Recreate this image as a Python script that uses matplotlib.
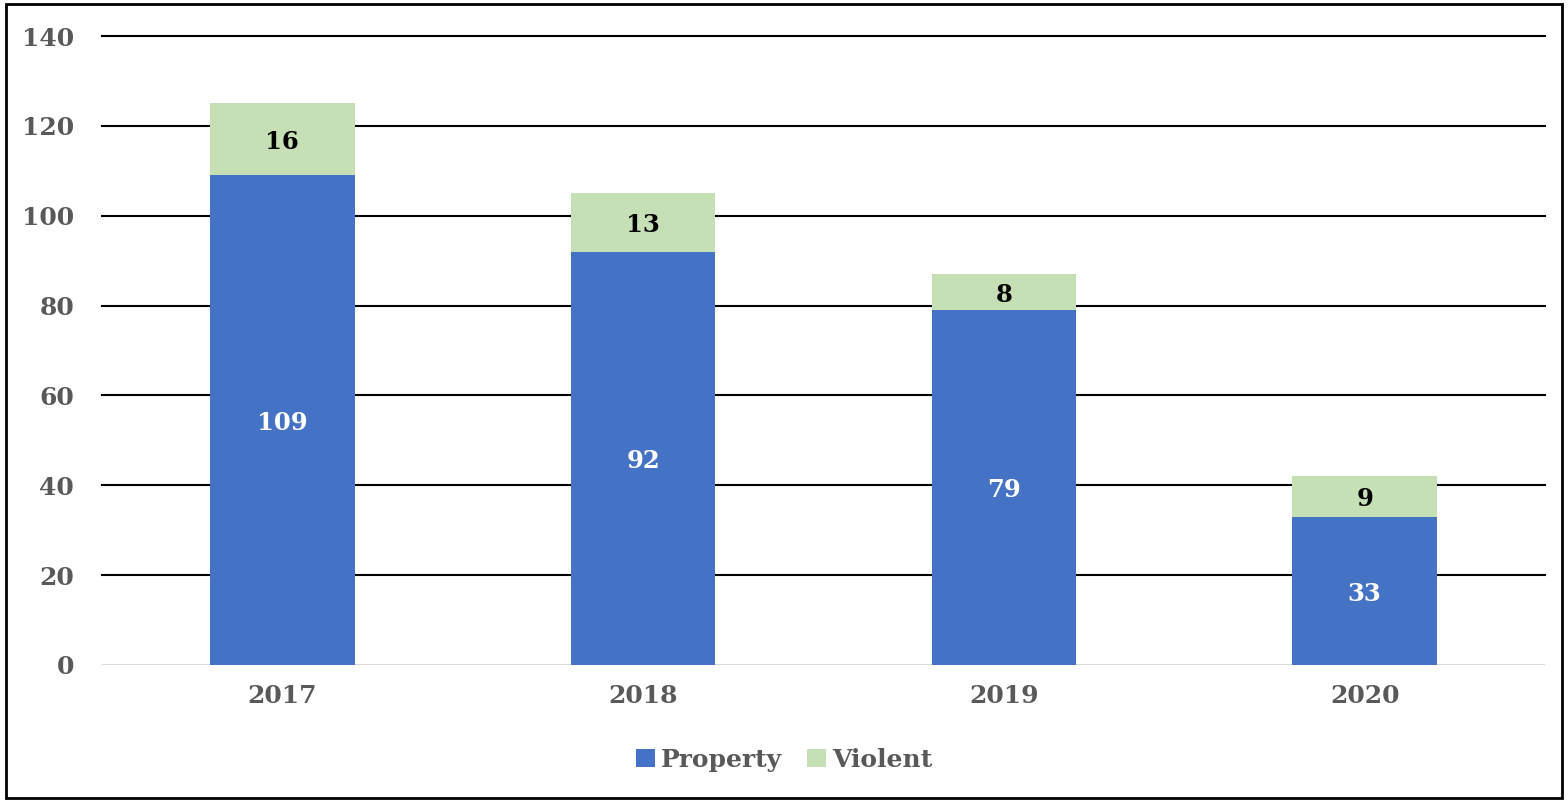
import matplotlib
matplotlib.use("Agg")
import matplotlib.pyplot as plt
from matplotlib.patches import Rectangle

years = ["2017", "2018", "2019", "2020"]
property_vals = [109, 92, 79, 33]
violent_vals = [16, 13, 8, 9]
yticks = [0, 20, 40, 60, 80, 100, 120, 140]

plt.rcParams['font.family'] = ['DejaVu Serif']
plt.rcParams['font.weight'] = 'bold'

fig = plt.figure(figsize=(15.68, 8.02), dpi=100)
ax = fig.add_axes([102/1568, 1-665/802, (1545-102)/1568, (665-36)/802])

x = list(range(len(years)))
blue = "#4472C4"
green = "#C5E0B4"
ax.bar(x, property_vals, width=0.4, color=blue, label="Property", zorder=3)
ax.bar(x, violent_vals, width=0.4, bottom=property_vals, color=green, label="Violent", zorder=3)

for i in x:
    ax.annotate(str(property_vals[i]), (i, property_vals[i]/2), xytext=(0, -2),
                textcoords='offset points', ha='center', va='center',
                color='white', fontsize=17.5, fontweight='bold', zorder=4)
    ax.annotate(str(violent_vals[i]), (i, property_vals[i] + violent_vals[i]/2), xytext=(0, -2),
                textcoords='offset points', ha='center', va='center',
                color='black', fontsize=17.5, fontweight='bold', zorder=4)

ax.set_xlim(-0.5, 3.5)
ax.set_ylim(0, 140)
ax.set_yticks(yticks)
ax.set_xticks(x)
ax.set_xticklabels(years)
for y in yticks[1:]:
    ax.axhline(y, color='black', lw=1.5, zorder=1, clip_on=False)
ax.axhline(0, color='#D9D9D9', lw=1.5, zorder=2)
for s in ax.spines.values():
    s.set_visible(False)
ax.tick_params(axis='both', length=0, colors='#595959', labelsize=18)
ax.tick_params(axis='y', pad=20)
ax.tick_params(axis='x', pad=14)
for lab in ax.get_xticklabels() + ax.get_yticklabels():
    lab.set_fontweight('bold')

leg = fig.legend(loc='center', bbox_to_anchor=(0.5, 1-760/802), ncol=2, frameon=False,
                 fontsize=18, handlelength=0.75, handleheight=0.75, columnspacing=1.0,
                 handletextpad=0.25)
for t in leg.get_texts():
    t.set_color('#595959')
    t.set_fontweight('bold')

fig.patches.append(Rectangle((6/1568, 4/802), 1556/1568, 794/802, transform=fig.transFigure,
                             fill=False, edgecolor='black', lw=2))

fig.savefig("out.png", dpi=100)
